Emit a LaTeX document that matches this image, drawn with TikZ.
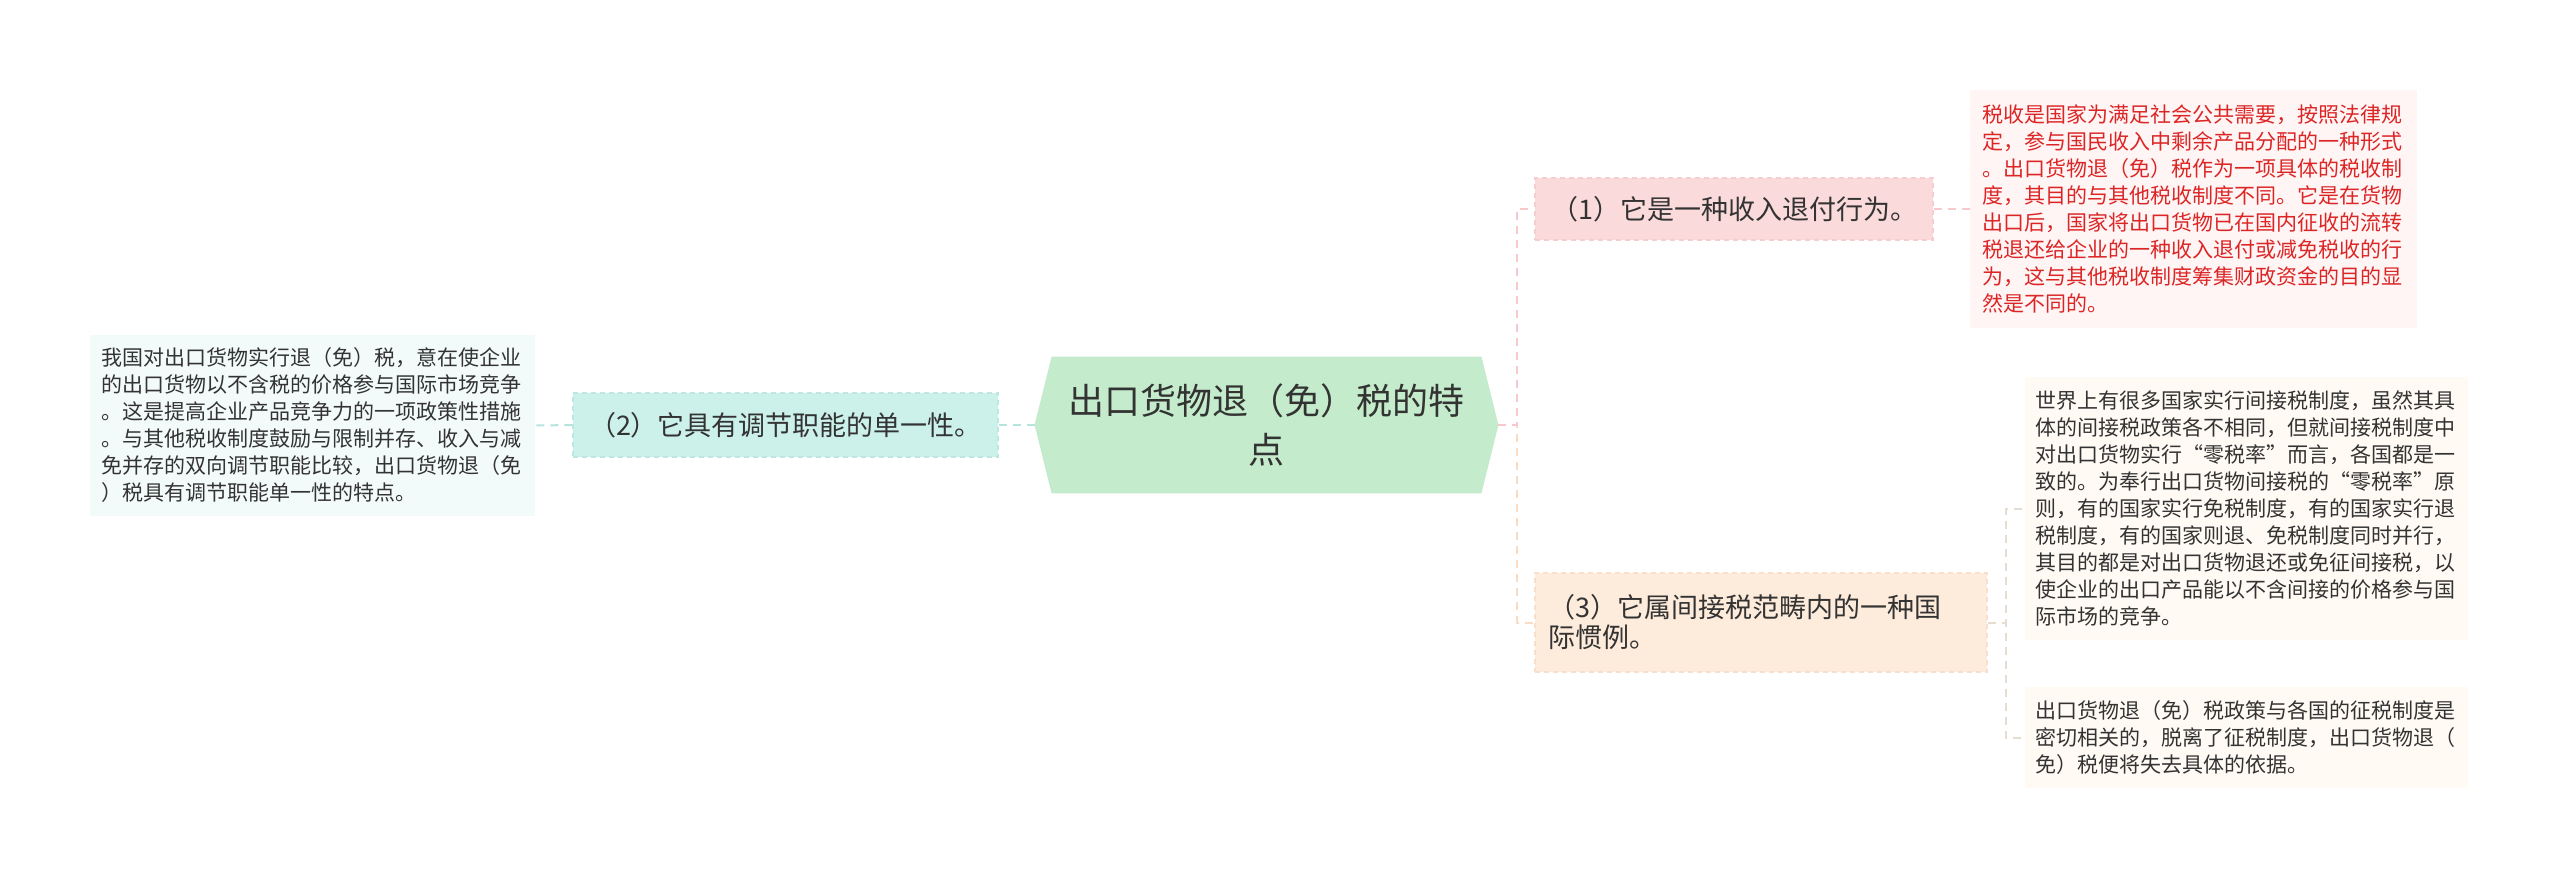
\documentclass[tikz,border=0pt]{standalone}
\usepackage{fontspec}
\setmainfont{Noto Sans CJK SC}
\usetikzlibrary{backgrounds}
\definecolor{rootfill}{HTML}{C4EBCB}
\definecolor{nafill}{HTML}{FADADB}
\definecolor{naborder}{HTML}{F6CDCF}
\definecolor{dafill}{HTML}{FFF5F5}
\definecolor{redtext}{HTML}{DC2626}
\definecolor{nbfill}{HTML}{CCF0EA}
\definecolor{nbborder}{HTML}{BDE8E1}
\definecolor{dbfill}{HTML}{F3FBFA}
\definecolor{ncfill}{HTML}{FDEBDB}
\definecolor{ncborder}{HTML}{F8DFCB}
\definecolor{dcfill}{HTML}{FFFAF4}
\definecolor{textgray}{HTML}{333333}
\definecolor{linepink}{HTML}{F6C9CD}
\definecolor{linecyan}{HTML}{B6E4DD}
\definecolor{linepeach}{HTML}{F8DCC6}
\definecolor{linegray}{HTML}{E6DCD2}
\begin{document}
\begin{tikzpicture}[x=0.5pt,y=-0.5pt,
  rootnode/.style={inner sep=0pt, minimum width=231.5pt, minimum height=68pt,
    text width=205pt, align=center, text=textgray,
    font=\fontsize{18pt}{24.5pt}\selectfont},
  mainbox/.style={inner sep=0pt, dashed, dash pattern=on 2.5pt off 2pt, line width=0.6pt,
    text=textgray, font=\fontsize{13.5pt}{15pt}\selectfont},
  detailbox/.style={inner sep=0pt, text width=211pt, align=left, text=textgray,
    font=\fontsize{10.5pt}{13.5pt}\selectfont},
  conn/.style={line width=1pt, dash pattern=on 4pt off 3pt}
]
\useasboundingbox (0,0) rectangle (2560,879);

\node[rootnode] (root) at (1266.5,425) {出口货物退（免）税的特\\点};

\node[mainbox, fill=nafill, draw=naborder, minimum width=199pt, minimum height=31pt] (na) at (1734,209) {（1）它是一种收入退付行为。};
\node[mainbox, fill=nbfill, draw=nbborder, minimum width=212.5pt, minimum height=32pt] (nb) at (785.5,425) {（2）它具有调节职能的单一性。};
\node[mainbox, fill=ncfill, draw=ncborder, minimum width=226pt, minimum height=49.5pt, text width=213pt, align=left] (nc) at (1761,622.5) {（3）它属间接税范畴内的一种国\\际惯例。};

\node[detailbox, fill=dafill, text=redtext, minimum width=223.5pt, minimum height=119pt] (da) at (2193.5,209) {税收是国家为满足社会公共需要，按照法律规\\定，参与国民收入中剩余产品分配的一种形式\\。出口货物退（免）税作为一项具体的税收制\\度，其目的与其他税收制度不同。它是在货物\\出口后，国家将出口货物已在国内征收的流转\\税退还给企业的一种收入退付或减免税收的行\\为，这与其他税收制度筹集财政资金的目的显\\然是不同的。};

\node[detailbox, fill=dbfill, minimum width=222.5pt, minimum height=90.5pt] (db) at (312.5,425.5) {我国对出口货物实行退（免）税，意在使企业\\的出口货物以不含税的价格参与国际市场竞争\\。这是提高企业产品竞争力的一项政策性措施\\。与其他税收制度鼓励与限制并存、收入与减\\免并存的双向调节职能比较，出口货物退（免\\）税具有调节职能单一性的特点。};

\node[detailbox, fill=dcfill, minimum width=221.5pt, minimum height=131.5pt] (dca) at (2246.5,508.5) {世界上有很多国家实行间接税制度，虽然其具\\体的间接税政策各不相同，但就间接税制度中\\对出口货物实行“零税率”而言，各国都是一\\致的。为奉行出口货物间接税的“零税率”原\\则，有的国家实行免税制度，有的国家实行退\\税制度，有的国家则退、免税制度同时并行，\\其目的都是对出口货物退还或免征间接税，以\\使企业的出口产品能以不含间接的价格参与国\\际市场的竞争。};

\node[detailbox, fill=dcfill, minimum width=221.5pt, minimum height=50.5pt] (dcb) at (2246.5,737.5) {出口货物退（免）税政策与各国的征税制度是\\密切相关的，脱离了征税制度，出口货物退（\\免）税便将失去具体的依据。};

\begin{scope}[on background layer]
\fill[white] (0,0) rectangle (2560,879);
\fill[rootfill] ([xshift=8.5pt]root.north west) -- ([xshift=-8.5pt]root.north east) -- (root.east) -- ([xshift=-8.5pt]root.south east) -- ([xshift=8.5pt]root.south west) -- (root.west) -- cycle;
\draw[conn, linepeach] (root.east) -- ([xshift=9.5pt]root.east) |- (nc.west);
\draw[conn, linepink] (root.east) -- ([xshift=9.5pt]root.east) |- (na.west);
\draw[conn, linepink] (na.east) -- (da.west);
\draw[conn, linecyan] (root.west) -- (nb.east);
\draw[conn, linecyan] (nb.west) -- (db.east);
\draw[conn, linegray] (nc.east) -- ([xshift=9pt]nc.east) |- (dca.west);
\draw[conn, linegray] (nc.east) -- ([xshift=9pt]nc.east) |- (dcb.west);
\end{scope}
\end{tikzpicture}
\end{document}
